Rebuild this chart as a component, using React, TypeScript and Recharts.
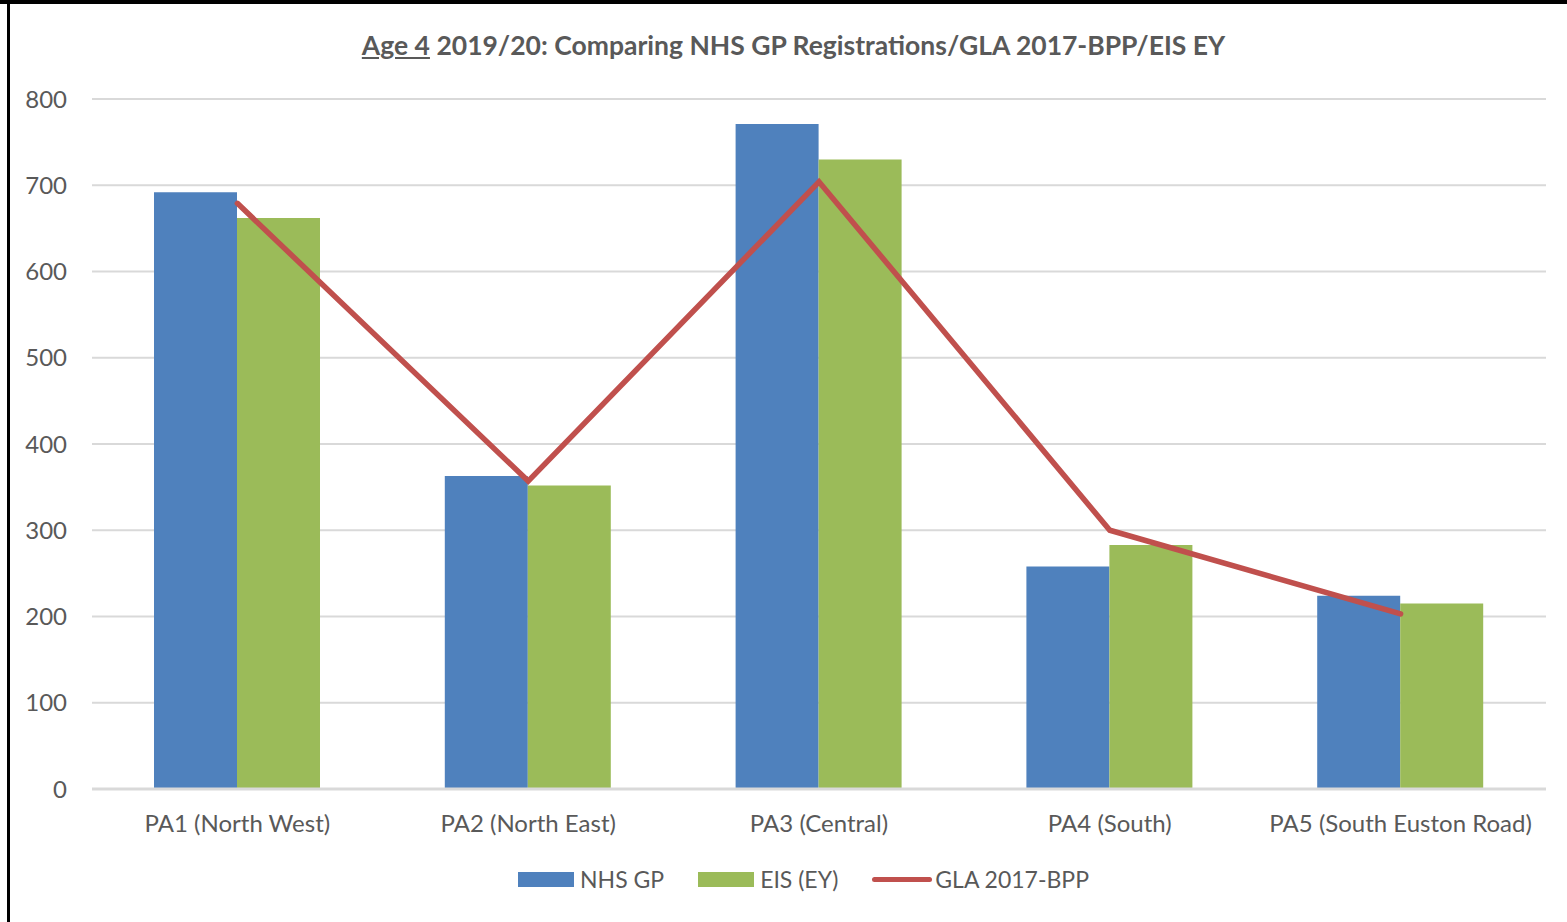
// @ts-nocheck
import React from 'react';
import {
  ComposedChart, Bar, Line, XAxis, YAxis, CartesianGrid,
} from 'recharts';

const categories = [
  'PA1 (North West)',
  'PA2 (North East)',
  'PA3 (Central)',
  'PA4 (South)',
  'PA5 (South Euston Road)',
];
const nhsGp = [692, 363, 771, 258, 224];
const eisEy = [662, 352, 730, 283, 215];
const gla2017 = [679, 357, 704, 300, 203];
const yTicks = [0, 100, 200, 300, 400, 500, 600, 700, 800];

const BLUE = '#4F81BD';
const GREEN = '#9BBB59';
const RED = '#C0504D';
const GRID = '#D9D9D9';
const TEXT = '#595959';
const FONT = 'Lato, "Open Sans", sans-serif';

const data = categories.map((name, i) => ({
  name,
  'NHS GP': nhsGp[i],
  'EIS (EY)': eisEy[i],
  'GLA 2017-BPP': gla2017[i],
}));

function LegendRow() {
  const item = { display: 'flex', alignItems: 'center', marginRight: 34 };
  const label = { fontFamily: FONT, fontSize: 23, color: TEXT, marginLeft: 6 };
  return (
    <div
      style={{
        position: 'absolute', top: 865, left: 0, width: 1567,
        display: 'flex', justifyContent: 'center', alignItems: 'center',
        paddingLeft: 20,
      }}
    >
      <div style={item}>
        <div style={{ width: 56, height: 15, background: BLUE }} />
        <span style={label}>NHS GP</span>
      </div>
      <div style={item}>
        <div style={{ width: 56, height: 15, background: GREEN }} />
        <span style={label}>EIS (EY)</span>
      </div>
      <div style={{ ...item, marginRight: 0 }}>
        <div style={{ width: 60, height: 5, borderRadius: 3, background: RED }} />
        <span style={{ ...label, marginLeft: 3 }}>GLA 2017-BPP</span>
      </div>
    </div>
  );
}

export default function App() {
  return (
    <div
      style={{
        position: 'fixed', top: 0, left: 0, width: 1567, height: 922,
        background: '#fff', overflow: 'hidden',
      }}
    >
      {/* frame edges */}
      <div style={{ position: 'absolute', top: 0, left: 0, width: 1567, height: 4, background: '#000' }} />
      <div style={{ position: 'absolute', top: 0, left: 7, width: 3, height: 922, background: '#000' }} />

      <div
        style={{
          position: 'absolute', top: 29, left: 0, width: 1567, textAlign: 'center',
          fontFamily: FONT, fontWeight: 'bold', fontSize: 26.5, color: TEXT,
          paddingLeft: 10,
        }}
      >
        <span style={{ textDecoration: 'underline' }}>Age 4</span> 2019/20: Comparing NHS GP Registrations/GLA 2017-BPP/EIS EY
      </div>

      <div style={{ position: 'absolute', top: 0, left: 0 }}>
        <ComposedChart
          width={1567}
          height={922}
          data={data}
          margin={{ top: 99, right: 21, left: 12, bottom: 0 }}
          barGap={0}
        >
          <CartesianGrid vertical={false} stroke={GRID} strokeWidth={2} />
          <XAxis
            dataKey="name"
            height={133}
            tickLine={false}
            tickSize={0}
            tickMargin={26}
            axisLine={{ stroke: GRID, strokeWidth: 3 }}
            tick={{ fontSize: 24, fill: TEXT, fontFamily: FONT }}
            interval={0}
          />
          <YAxis
            width={80}
            domain={[0, 800]}
            ticks={yTicks}
            axisLine={false}
            tickLine={false}
            tickSize={0}
            tickMargin={25}
            tick={{ fontSize: 24, fill: TEXT, fontFamily: FONT }}
          />
          <Bar dataKey="NHS GP" fill={BLUE} barSize={83} isAnimationActive={false} />
          <Bar dataKey="EIS (EY)" fill={GREEN} barSize={83} isAnimationActive={false} />
          <Line
            dataKey="GLA 2017-BPP"
            stroke={RED}
            strokeWidth={5.5}
            strokeLinecap="round"
            dot={false}
            activeDot={false}
            isAnimationActive={false}
          />
        </ComposedChart>
      </div>

      <LegendRow />
    </div>
  );
}
